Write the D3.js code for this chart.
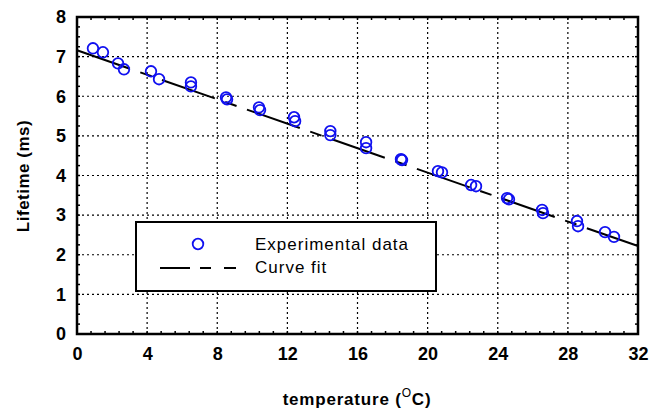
<!DOCTYPE html>
<html>
<head>
<meta charset="utf-8">
<script src="https://cdn.jsdelivr.net/npm/d3@7"></script>
<style>
  body { margin: 0; background: #fff; }
  svg { font-family: "Liberation Sans", Arial, sans-serif; }
</style>
</head>
<body>
<script>
// chart data
const temps = [0.91, 1.48, 2.34, 2.68, 4.22, 4.68, 6.50, 6.50, 8.50, 8.56,
  10.38, 10.44, 12.38, 12.44, 14.45, 14.45, 16.49, 16.49, 18.48, 18.54,
  20.59, 20.82, 22.48, 22.76, 24.53, 24.64, 26.53, 26.58, 28.52, 28.58, 30.12, 30.63];
const lifetimes = [7.21, 7.11, 6.83, 6.68, 6.63, 6.43, 6.35, 6.25, 5.97, 5.92,
  5.72, 5.65, 5.47, 5.37, 5.12, 5.02, 4.84, 4.69, 4.41, 4.39,
  4.11, 4.08, 3.76, 3.73, 3.43, 3.40, 3.13, 3.05, 2.85, 2.72, 2.57, 2.45];
const fitX = [0, 32];
const fitY = [7.16, 2.22];
const xTicks = [0, 4, 8, 12, 16, 20, 24, 28, 32];
const yTicks = [0, 1, 2, 3, 4, 5, 6, 7, 8];
const legendLabels = ["Experimental data", "Curve fit"];

const w = 649, h = 413;
const margin = {left: 77, top: 17, right: 11, bottom: 79};

const svg = d3.select("body").append("svg")
  .attr("width", w)
  .attr("height", h);

const x = d3.scaleLinear().domain([0, 32]).range([margin.left, w - margin.right]);
const y = d3.scaleLinear().domain([0, 8]).range([h - margin.bottom, margin.top]);

const x0 = x(0), x1 = x(32), y0 = y(0), y1 = y(8);

// grid (dotted)
const grid = svg.append("g").attr("stroke", "#000").attr("stroke-width", 1.2)
  .attr("stroke-dasharray", "2,3");
grid.selectAll(".gx").data(xTicks.slice(1, -1)).join("line")
  .attr("x1", d => x(d)).attr("x2", d => x(d)).attr("y1", y1).attr("y2", y0);
grid.selectAll(".gy").data(yTicks.slice(1, -1)).join("line")
  .attr("y1", d => y(d)).attr("y2", d => y(d)).attr("x1", x0).attr("x2", x1);

// minor ticks on all four sides, pointing inward
const xMinor = d3.range(0, 32.01, 0.8);
const yMinor = d3.range(0, 8.01, 0.25);
const ticks = svg.append("g").attr("stroke", "#000").attr("stroke-width", 1.5);
ticks.selectAll(".mb").data(xMinor).join("line")
  .attr("x1", d => x(d)).attr("x2", d => x(d)).attr("y1", y0).attr("y2", y0 - 3);
ticks.selectAll(".mt").data(xMinor).join("line")
  .attr("x1", d => x(d)).attr("x2", d => x(d)).attr("y1", y1).attr("y2", y1 + 3);
ticks.selectAll(".ml").data(yMinor).join("line")
  .attr("y1", d => y(d)).attr("y2", d => y(d)).attr("x1", x0).attr("x2", x0 + 3);
ticks.selectAll(".mr").data(yMinor).join("line")
  .attr("y1", d => y(d)).attr("y2", d => y(d)).attr("x1", x1).attr("x2", x1 - 3);

// axes tick labels
const xAxis = d3.axisBottom(x).tickValues(xTicks).tickSize(0).tickPadding(13);
const yAxis = d3.axisLeft(y).tickValues(yTicks).tickSize(0).tickPadding(11);
svg.append("g").attr("transform", `translate(0,${y0})`).call(xAxis)
  .call(g => g.select(".domain").remove())
  .selectAll("text").attr("font-size", 18).attr("font-weight", "bold")
  .attr("font-family", "Liberation Sans, Arial, sans-serif").attr("fill", "#000");
svg.append("g").attr("transform", `translate(${x0},0)`).call(yAxis)
  .call(g => g.select(".domain").remove())
  .selectAll("text").attr("font-size", 18).attr("font-weight", "bold")
  .attr("font-family", "Liberation Sans, Arial, sans-serif").attr("fill", "#000");

// frame
svg.append("rect")
  .attr("x", x0).attr("y", y1)
  .attr("width", x1 - x0).attr("height", y0 - y1)
  .attr("fill", "none").attr("stroke", "#000").attr("stroke-width", 2.5);

// curve fit
const line = d3.line().x(d => x(d[0])).y(d => y(d[1]));
svg.append("path")
  .datum(d3.zip(fitX, fitY))
  .attr("d", line)
  .attr("fill", "none").attr("stroke", "#000").attr("stroke-width", 2)
  .attr("stroke-dasharray", "56,11,12,11");

// data points
svg.append("g").selectAll("circle")
  .data(d3.zip(temps, lifetimes))
  .join("circle")
  .attr("cx", d => x(d[0]))
  .attr("cy", d => y(d[1]))
  .attr("r", 5.3)
  .attr("fill", "none")
  .attr("stroke", "#1010f0")
  .attr("stroke-width", 1.8);

// legend
const leg = svg.append("g");
leg.append("rect")
  .attr("x", 136).attr("y", 222).attr("width", 300).attr("height", 69)
  .attr("fill", "#fff").attr("stroke", "#000").attr("stroke-width", 2);
leg.append("circle")
  .attr("cx", 198).attr("cy", 244).attr("r", 5.3)
  .attr("fill", "none").attr("stroke", "#1010f0").attr("stroke-width", 1.8);
leg.append("line")
  .attr("x1", 160).attr("x2", 237).attr("y1", 268).attr("y2", 268)
  .attr("stroke", "#000").attr("stroke-width", 2)
  .attr("stroke-dasharray", "30,10,11,13,12");
leg.selectAll("text").data(legendLabels).join("text")
  .attr("x", 255)
  .attr("y", (d, i) => 250 + i * 23)
  .attr("font-size", 17)
  .attr("letter-spacing", 1)
  .text(d => d);

// axis titles
const xt = svg.append("text")
  .attr("x", 357).attr("y", 405)
  .attr("text-anchor", "middle")
  .attr("font-size", 17).attr("font-weight", "bold")
  .attr("letter-spacing", 0.8);
xt.append("tspan").text("temperature (");
xt.append("tspan").attr("dy", -8).attr("font-size", 12).attr("font-weight", "normal").text("O");
xt.append("tspan").attr("dy", 8).text("C)");

svg.append("text")
  .attr("transform", "translate(29,176) rotate(-90)")
  .attr("text-anchor", "middle")
  .attr("font-size", 17).attr("font-weight", "bold")
  .attr("letter-spacing", 0.5)
  .text("Lifetime (ms)");
</script>
</body>
</html>
